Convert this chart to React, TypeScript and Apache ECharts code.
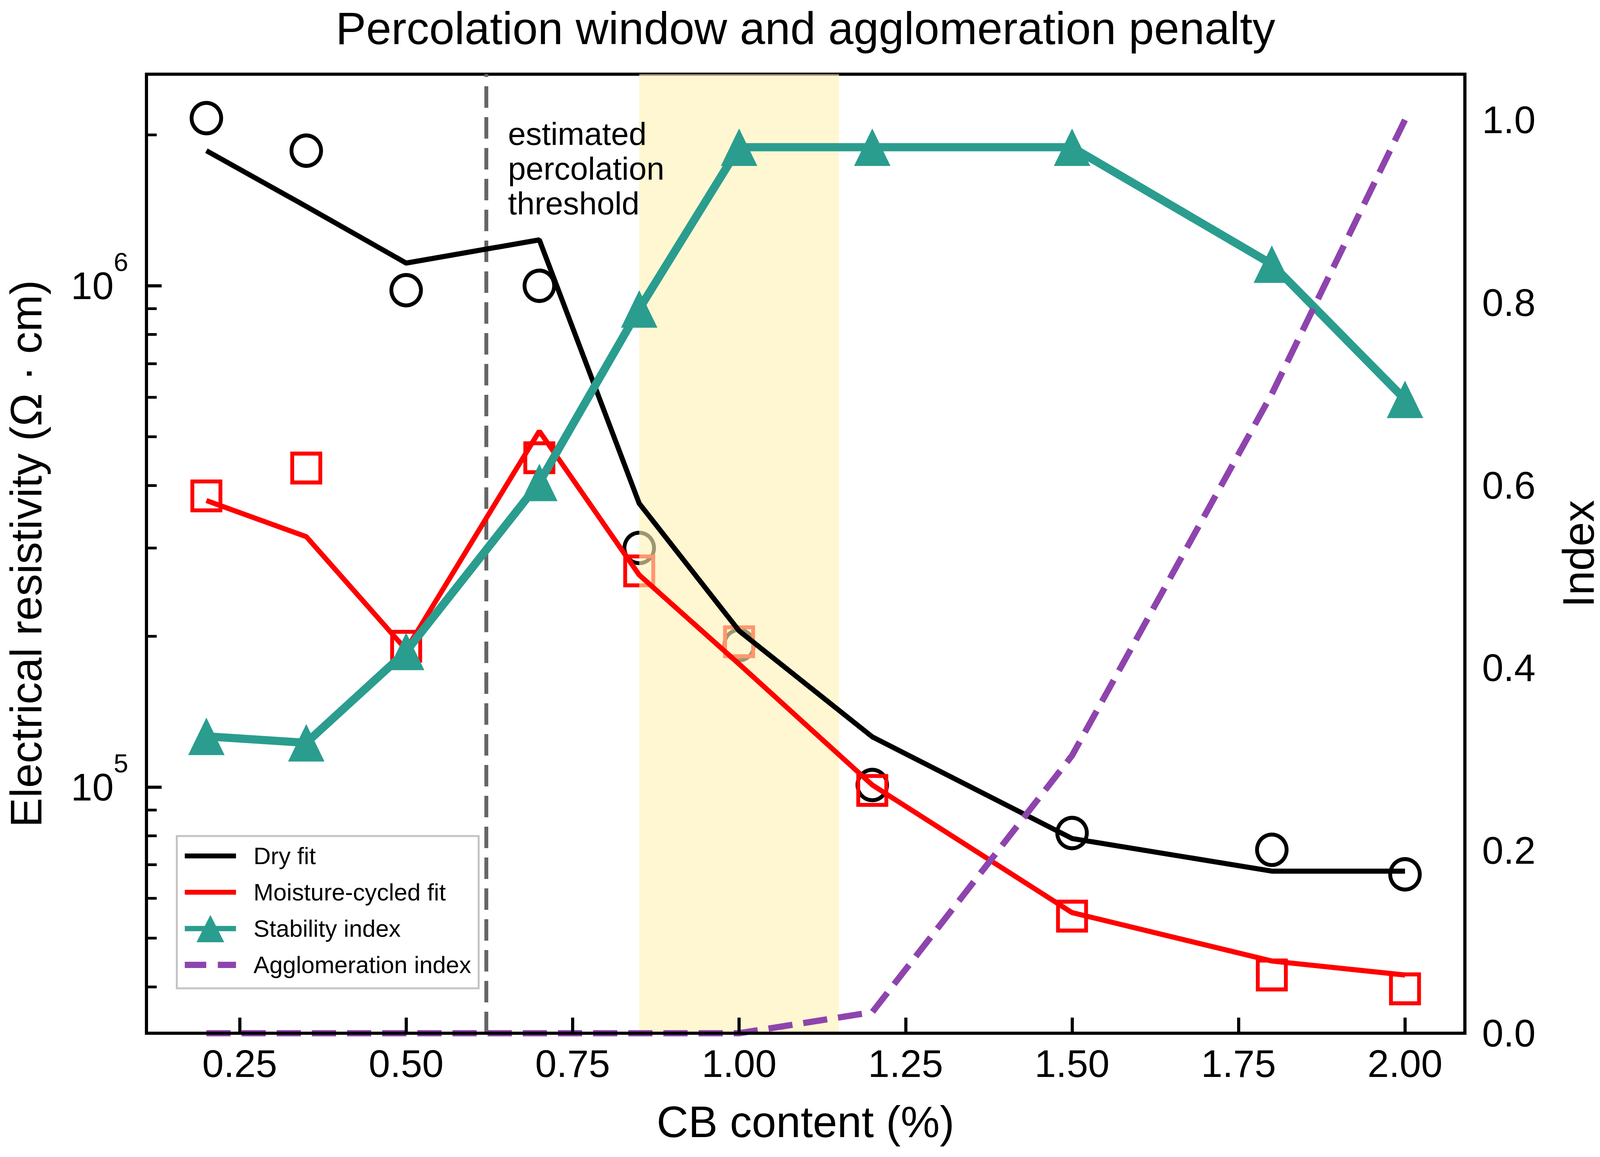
import React, { useEffect, useRef } from 'react';
import * as echarts from 'echarts';

// ---------- data ----------
const cbContent = [0.2, 0.35, 0.5, 0.7, 0.85, 1.0, 1.2, 1.5, 1.8, 2.0];
const dryMeasured = [2.16e6, 1.86e6, 9.8e5, 1.0e6, 3.0e5, 1.92e5, 1.01e5, 8.1e4, 7.5e4, 6.7e4];
const dryFit = [1.86e6, 1.44e6, 1.11e6, 1.235e6, 3.68e5, 2.05e5, 1.26e5, 7.9e4, 6.8e4, 6.8e4];
const moistMeasured = [3.81e5, 4.33e5, 1.91e5, 4.54e5, 2.7e5, 1.95e5, 9.85e4, 5.53e4, 4.22e4, 3.96e4];
const moistFit = [3.73e5, 3.16e5, 1.88e5, 5.13e5, 2.65e5, 1.76e5, 1.01e5, 5.62e4, 4.5e4, 4.22e4];
const stabilityIndex = [0.325, 0.318, 0.418, 0.603, 0.793, 0.97, 0.97, 0.97, 0.842, 0.694];
const agglomerationIndex = [0, 0, 0, 0, 0, 0, 0.023, 0.304, 0.7, 1.0];

const xTicks = [0.25, 0.5, 0.75, 1.0, 1.25, 1.5, 1.75, 2.0];
const indexTicks = [0, 0.2, 0.4, 0.6, 0.8, 1.0];
const logMajor = [1e5, 1e6];
const logMinor = [4e4, 5e4, 6e4, 7e4, 8e4, 9e4, 2e5, 3e5, 4e5, 5e5, 6e5, 7e5, 8e5, 9e5, 2e6];
const legendNames = ['Dry fit', 'Moisture-cycled fit', 'Stability index', 'Agglomeration index'];

const X_RANGE = [0.11, 2.09];
const RES_RANGE = [32300, 2.643e6];
const INDEX_RANGE = [0, 1.05];
const thresholdX = 0.62;
const windowX = [0.85, 1.15];

const FONT = '"Liberation Sans", Arial, Helvetica, sans-serif';
const BASE_W = 4217;
const BASE_H = 2963;

const ICON_SOLID = 'path://M0,0H135V13H0Z';
const ICON_TRI = 'path://M0,29H135V43H0Z M67.5,0L104,72L31,72Z';
const ICON_DASH = 'path://M0,0H52V15H0Z M80,0H124V15H80Z';

export default function App() {
  const ref = useRef<HTMLDivElement>(null);

  useEffect(() => {
    const el = ref.current;
    if (!el) return;
    const W = el.clientWidth || BASE_W;
    const H = el.clientHeight || BASE_H;
    const sx = W / BASE_W;
    const sy = H / BASE_H;
    const fsc = (sx + sy) / 2;
    const X = (v: number) => v * sx;
    const Y = (v: number) => v * sy;
    const F = (v: number) => Math.round(v * fsc * 10) / 10;

    const chart = echarts.init(el, undefined, { renderer: 'svg' });

    const pairs = (ys: number[]) => cbContent.map((x, i) => [x, ys[i]]);
    const axisLine = { show: true, lineStyle: { color: '#000', width: 8 } };

    const option: any = {
      animation: false,
      backgroundColor: '#fff',
      grid: {
        left: X(386), right: W - X(3861), top: Y(190), bottom: H - Y(2646),
        show: true, borderColor: '#000', borderWidth: 8, backgroundColor: 'transparent',
        containLabel: false, outerBoundsMode: 'none',
      },
      xAxis: {
        type: 'value', min: X_RANGE[0], max: X_RANGE[1], z: 10,
        axisLine,
        axisTick: { show: true, inside: true, length: Y(40), customValues: xTicks, lineStyle: { color: '#000', width: 8 } },
        axisLabel: {
          customValues: xTicks, formatter: (v: number) => v.toFixed(2),
          fontSize: F(100), color: '#000', fontFamily: FONT, margin: Y(28),
        },
        splitLine: { show: false },
      },
      yAxis: [
        {
          type: 'log', logBase: 10, min: RES_RANGE[0], max: RES_RANGE[1], position: 'left', z: 10,
          axisLine,
          axisTick: { show: true, inside: true, length: X(40), customValues: logMajor, lineStyle: { color: '#000', width: 8 } },
          axisLabel: {
            customValues: logMajor,
            formatter: (v: number) => `{a|10}{b|${Math.round(Math.log10(v))}}`,
            margin: X(48),
            rich: {
              a: { fontSize: F(100), fontFamily: FONT, color: '#000', verticalAlign: 'middle' },
              b: { fontSize: F(68), fontFamily: FONT, color: '#000', verticalAlign: 'top', padding: [0, 0, Y(122), 0] },
            },
          },
          splitLine: { show: false },
          minorTick: { show: false },
        },
        {
          type: 'value', min: INDEX_RANGE[0], max: INDEX_RANGE[1], position: 'right', z: 10,
          axisLine,
          axisTick: { show: false },
          axisLabel: {
            customValues: indexTicks, formatter: (v: number) => v.toFixed(1),
            fontSize: F(100), color: '#000', fontFamily: FONT, margin: X(45),
          },
          splitLine: { show: false },
        },
        {
          type: 'log', logBase: 10, min: RES_RANGE[0], max: RES_RANGE[1], position: 'left', z: 10,
          axisLine: { show: false },
          axisTick: { show: true, inside: true, length: X(27), customValues: logMinor, lineStyle: { color: '#000', width: 7 } },
          axisLabel: { show: false },
          splitLine: { show: false },
        },
      ],
      legend: {
        data: [
          { name: legendNames[0], icon: ICON_SOLID },
          { name: legendNames[1], icon: ICON_SOLID },
          { name: legendNames[2], icon: ICON_TRI },
          { name: legendNames[3], icon: ICON_DASH },
        ],
        orient: 'vertical', left: X(466), top: Y(2141),
        itemWidth: X(135), itemHeight: Y(72), itemGap: Y(21), symbolKeepAspect: true,
        padding: [Y(15), X(20), Y(24), X(21)],
        backgroundColor: '#fff', borderColor: '#c4c4c4', borderWidth: 5, borderRadius: 0,
        itemStyle: { borderWidth: 0 },
        textStyle: { fontSize: F(62), lineHeight: Y(72), color: '#000', fontFamily: FONT, padding: [0, 0, 0, X(41)] },
        selectedMode: false,
      },
      graphic: [
        {
          type: 'text', x: X(2123), y: Y(73), silent: true,
          style: { text: 'Percolation window and agglomeration penalty', font: `${F(118)}px ${FONT}`, fill: '#000', textAlign: 'center', textVerticalAlign: 'middle' },
        },
        {
          type: 'text', x: X(2123), y: Y(2873), silent: true,
          style: { text: 'CB content (%)', font: `${F(114)}px ${FONT}`, fill: '#000', textAlign: 'center', textVerticalAlign: 'middle' },
        },
        {
          type: 'text', x: X(68), y: Y(1418), rotation: Math.PI / 2, silent: true,
          style: { text: 'Electrical resistivity (Ω · cm)', font: `${F(115)}px ${FONT}`, fill: '#000', textAlign: 'center', textVerticalAlign: 'middle' },
        },
        {
          type: 'text', x: X(4160), y: Y(1418), rotation: Math.PI / 2, silent: true,
          style: { text: 'Index', font: `${F(114)}px ${FONT}`, fill: '#000', textAlign: 'center', textVerticalAlign: 'middle' },
        },
        {
          type: 'text', x: X(1339), y: Y(298), silent: true, z: 100,
          style: { text: 'estimated\npercolation\nthreshold', font: `${F(83)}px ${FONT}`, lineHeight: Y(89), fill: '#000', textAlign: 'left', textVerticalAlign: 'top' },
        },
      ],
      series: [
        {
          name: 'Dry measured', type: 'scatter', z: 2, data: pairs(dryMeasured),
          symbol: 'circle', symbolSize: [X(78), Y(78)],
          itemStyle: { color: 'rgba(0,0,0,0)', borderColor: '#000', borderWidth: 10, opacity: 1 },
        },
        {
          name: 'Moisture-cycled measured', type: 'scatter', z: 2, data: pairs(moistMeasured),
          symbol: 'rect', symbolSize: [X(74), Y(74)],
          itemStyle: { color: 'rgba(0,0,0,0)', borderColor: '#ff0000', borderWidth: 10, opacity: 1 },
        },
        {
          name: 'window', type: 'line', z: 3, data: [],
          markArea: {
            silent: true, z: 3,
            itemStyle: { color: 'rgba(255,242,180,0.62)' },
            data: [[{ xAxis: windowX[0] }, { xAxis: windowX[1] }]],
          },
          markLine: {
            silent: true, z: 4, symbol: ['none', 'none'], label: { show: false },
            lineStyle: { color: '#666', width: 10, type: [55, 24] },
            data: [{ xAxis: thresholdX }],
          },
        },
        {
          name: 'Dry fit', type: 'line', z: 5, data: pairs(dryFit),
          symbol: 'none', lineStyle: { color: '#000', width: 13 }, itemStyle: { color: '#000' },
        },
        {
          name: 'Moisture-cycled fit', type: 'line', z: 6, data: pairs(moistFit),
          symbol: 'none', lineStyle: { color: '#ff0000', width: 13 }, itemStyle: { color: '#ff0000' },
        },
        {
          name: 'Stability index', type: 'line', z: 7, yAxisIndex: 1, data: pairs(stabilityIndex),
          symbol: 'triangle', symbolSize: [X(96), Y(96)], showSymbol: true,
          lineStyle: { color: '#2a9d8f', width: 21 }, itemStyle: { color: '#2a9d8f', opacity: 1 },
        },
        {
          name: 'Agglomeration index', type: 'line', z: 8, yAxisIndex: 1, data: pairs(agglomerationIndex),
          symbol: 'none', lineStyle: { color: '#8e44ad', width: 16, type: [62, 28] }, itemStyle: { color: '#8e44ad' },
        },
      ],
    };

    chart.setOption(option);
    return () => chart.dispose();
  }, []);

  return <div ref={ref} style={{ position: 'absolute', left: 0, top: 0, width: '100vw', height: '100vh' }} />;
}
